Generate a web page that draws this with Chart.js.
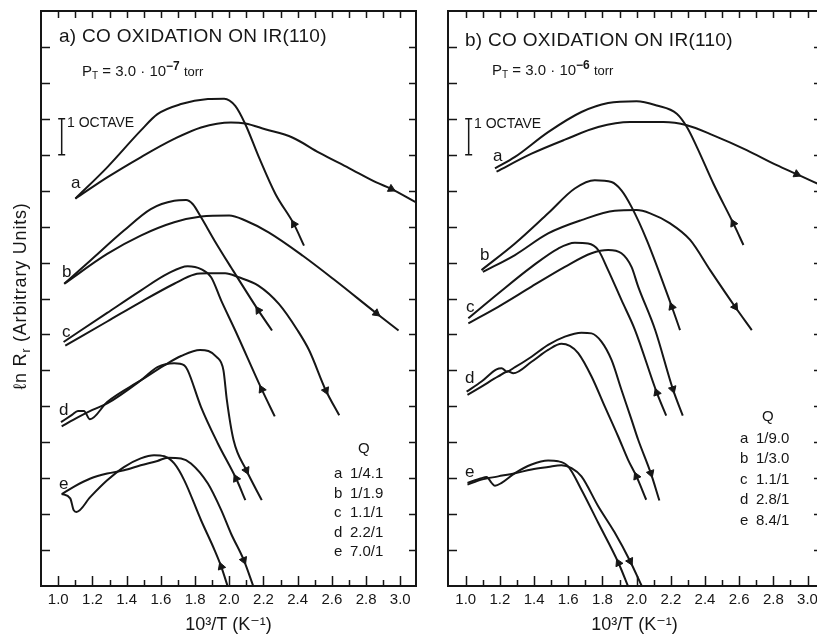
<!DOCTYPE html>
<html>
<head>
<meta charset="utf-8">
<script src="https://cdn.jsdelivr.net/npm/chart.js@4.4.1/dist/chart.umd.min.js"></script>
<style>
  html, body { margin: 0; padding: 0; background: #fff; overflow: hidden; }
  #wrap { position: relative; width: 817px; height: 637px; overflow: hidden; }
  canvas { position: absolute; top: 0; }
  #left { left: 0; width: 432px; height: 637px; }
  #right { left: 432px; width: 395px; height: 637px; }
  .t { position: absolute; font-family: 'Liberation Sans', 'DejaVu Sans', sans-serif; color: #161616; line-height: 1; white-space: nowrap; }
  .title { font-size: 19px; letter-spacing: 0.3px; }
  .pt { font-size: 15px; }
  .pt .s { font-size: 10px; position: relative; top: 3px; }
  .pt .u { font-size: 12px; font-weight: bold; position: relative; top: -6px; }
  .pt .torr { font-size: 13px; }
  .oct { font-size: 14px; }
  .cl { font-size: 17px; }
  .lg { font-size: 15px; }
  .lg b { display: inline-block; width: 16px; font-weight: normal; }
  .ytitle { font-size: 18px; letter-spacing: 0.8px; transform: translate(-50%, -50%) rotate(-90deg); }
  .ytitle .s { font-size: 12px; position: relative; top: 4px; }
</style>
</head>
<body>
<div id="wrap">
  <canvas id="left" width="432" height="637"></canvas>
  <canvas id="right" width="395" height="637"></canvas>

  <div class="t ytitle" style="left:20px; top:296px;">ℓn R<span class="s">r</span> (Arbitrary Units)</div>

  <!-- panel a -->
  <div class="t title" style="left:59px; top:26px;">a) CO OXIDATION ON IR(110)</div>
  <div class="t pt" style="left:82px; top:63px;">P<span class="s">T</span> = 3.0 · 10<span class="u">−7</span> <span class="torr">torr</span></div>
  <div class="t oct" style="left:67px; top:115px;">1 OCTAVE</div>
  <div class="t cl" style="left:71px; top:174px;">a</div>
  <div class="t cl" style="left:62px; top:263px;">b</div>
  <div class="t cl" style="left:62px; top:323px;">c</div>
  <div class="t cl" style="left:59px; top:401px;">d</div>
  <div class="t cl" style="left:59px; top:475px;">e</div>
  <div class="t lg" style="left:358px; top:440px;">Q</div>
  <div class="t lg" style="left:334px; top:465px;"><b>a</b>1/4.1</div>
  <div class="t lg" style="left:334px; top:485px;"><b>b</b>1/1.9</div>
  <div class="t lg" style="left:334px; top:504px;"><b>c</b>1.1/1</div>
  <div class="t lg" style="left:334px; top:524px;"><b>d</b>2.2/1</div>
  <div class="t lg" style="left:334px; top:543px;"><b>e</b>7.0/1</div>

  <!-- panel b -->
  <div class="t title" style="left:465px; top:30px;">b) CO OXIDATION ON IR(110)</div>
  <div class="t pt" style="left:492px; top:62px;">P<span class="s">T</span> = 3.0 · 10<span class="u">−6</span> <span class="torr">torr</span></div>
  <div class="t oct" style="left:474px; top:116px;">1 OCTAVE</div>
  <div class="t cl" style="left:493px; top:147px;">a</div>
  <div class="t cl" style="left:480px; top:246px;">b</div>
  <div class="t cl" style="left:466px; top:298px;">c</div>
  <div class="t cl" style="left:465px; top:369px;">d</div>
  <div class="t cl" style="left:465px; top:463px;">e</div>
  <div class="t lg" style="left:762px; top:408px;">Q</div>
  <div class="t lg" style="left:740px; top:430px;"><b>a</b>1/9.0</div>
  <div class="t lg" style="left:740px; top:450px;"><b>b</b>1/3.0</div>
  <div class="t lg" style="left:740px; top:471px;"><b>c</b>1.1/1</div>
  <div class="t lg" style="left:740px; top:491px;"><b>d</b>2.8/1</div>
  <div class="t lg" style="left:740px; top:512px;"><b>e</b>8.4/1</div>
</div>

<script>
// --- data: [10^3/T, ln R] ---
const xTickValues = [1.0, 1.2, 1.4, 1.6, 1.8, 2.0, 2.2, 2.4, 2.6, 2.8, 3.0];
const xTickLabels = ['1.0', '1.2', '1.4', '1.6', '1.8', '2.0', '2.2', '2.4', '2.6', '2.8', '3.0'];

// panel a, P = 3.0e-7 torr
const leftA1 = [[1.10,10.78],[1.286,11.65],[1.482,12.67],[1.58,13.13],[1.718,13.41],[1.875,13.55],[1.97,13.56],[2.035,13.36],[2.094,12.85],[2.17,11.97],[2.27,10.91],[2.378,10.07],[2.437,9.47]];
const leftA2 = [[1.10,10.78],[1.286,11.37],[1.482,11.93],[1.678,12.44],[1.835,12.76],[2.01,12.90],[2.094,12.87],[2.21,12.71],[2.369,12.48],[2.525,12.06],[2.70,11.63],[2.86,11.23],[2.947,11.05],[3.09,10.68]];
const leftB1 = [[1.035,8.41],[1.188,9.06],[1.384,9.89],[1.541,10.49],[1.678,10.72],[1.747,10.74],[1.786,10.63],[1.835,10.26],[1.914,9.61],[2.01,8.87],[2.17,7.67],[2.25,7.11]];
const leftB2 = [[1.035,8.41],[1.286,9.24],[1.482,9.75],[1.678,10.12],[1.835,10.28],[2.0,10.31],[2.094,10.17],[2.23,9.84],[2.43,9.19],[2.62,8.5],[2.86,7.59],[2.99,7.11]];
const leftC1 = [[1.031,6.79],[1.286,7.6],[1.482,8.22],[1.64,8.69],[1.757,8.9],[1.835,8.82],[1.894,8.59],[1.953,7.94],[2.035,7.11],[2.19,5.47],[2.266,4.72]];
const leftC2 = [[1.041,6.69],[1.286,7.36],[1.482,7.9],[1.678,8.41],[1.796,8.67],[1.875,8.70],[1.976,8.70],[2.055,8.59],[2.17,8.36],[2.29,7.85],[2.40,7.11],[2.467,6.56],[2.565,5.44],[2.643,4.75]];
const leftD1 = [[1.016,4.56],[1.08,4.76],[1.115,4.87],[1.15,4.87],[1.185,4.64],[1.286,5.12],[1.482,5.72],[1.62,6.14],[1.718,6.4],[1.829,6.57],[1.927,6.37],[1.966,6.0],[1.986,5.17],[2.025,4.06],[2.10,3.22],[2.19,2.39]];
const leftD2 = [[1.02,4.44],[1.09,4.63],[1.2,4.9],[1.286,5.08],[1.482,5.72],[1.58,6.09],[1.678,6.2],[1.737,6.14],[1.757,6.0],[1.835,4.98],[1.934,3.96],[2.04,2.99],[2.094,2.39]];
const leftE1 = [[1.02,2.56],[1.07,2.44],[1.09,2.11],[1.106,2.06],[1.188,2.48],[1.286,2.94],[1.384,3.31],[1.482,3.55],[1.56,3.64],[1.62,3.61],[1.678,3.41],[1.737,2.94],[1.835,1.83],[1.914,1.0],[1.953,0.54],[1.99,0.0]];
const leftE2 = [[1.02,2.56],[1.09,2.76],[1.188,2.99],[1.286,3.13],[1.384,3.22],[1.482,3.36],[1.58,3.48],[1.64,3.57],[1.718,3.55],[1.776,3.41],[1.875,2.85],[1.953,2.11],[2.01,1.46],[2.085,0.72],[2.14,0.0]];

// panel b, P = 3.0e-6 torr
const rightA1 = [[1.171,11.62],[1.288,11.94],[1.482,12.63],[1.677,13.19],[1.833,13.44],[2.0,13.49],[2.118,13.37],[2.235,13.14],[2.294,12.77],[2.352,12.22],[2.449,11.2],[2.566,10.09],[2.625,9.49]];
const rightA2 = [[1.18,11.53],[1.385,12.03],[1.58,12.42],[1.775,12.77],[1.962,12.91],[2.157,12.91],[2.294,12.82],[2.449,12.54],[2.644,12.13],[2.82,11.71],[2.937,11.46],[3.08,11.15]];
const rightB1 = [[1.092,8.79],[1.288,9.53],[1.482,10.37],[1.638,11.06],[1.755,11.29],[1.853,11.24],[1.911,11.01],[1.97,10.55],[2.06,9.62],[2.206,7.77],[2.254,7.12]];
const rightB2 = [[1.10,8.74],[1.288,9.21],[1.482,9.81],[1.677,10.18],[1.872,10.44],[2.0,10.46],[2.079,10.37],[2.196,10.09],[2.313,9.63],[2.43,8.79],[2.576,7.77],[2.674,7.12]];
const rightC1 = [[1.015,7.45],[1.19,8.14],[1.385,8.88],[1.541,9.39],[1.638,9.55],[1.716,9.53],[1.775,9.35],[1.833,8.79],[1.911,7.96],[1.99,7.13],[2.118,5.38],[2.173,4.74]];
const rightC2 = [[1.015,7.31],[1.19,7.77],[1.385,8.33],[1.58,8.88],[1.736,9.26],[1.833,9.35],[1.911,9.26],[1.97,8.88],[2.009,8.33],[2.108,7.13],[2.212,5.48],[2.27,4.74]];
const rightD1 = [[1.005,5.41],[1.092,5.69],[1.18,6.03],[1.21,6.06],[1.239,5.97],[1.288,6.09],[1.385,6.38],[1.482,6.71],[1.58,6.94],[1.677,7.05],[1.736,7.03],[1.794,6.8],[1.853,6.29],[1.911,5.46],[1.97,4.63],[2.009,4.07],[2.083,3.14],[2.133,2.38]];
const rightD2 = [[1.01,5.32],[1.092,5.55],[1.19,5.83],[1.249,5.97],[1.278,5.92],[1.385,6.24],[1.482,6.57],[1.56,6.74],[1.609,6.68],[1.658,6.48],[1.736,5.83],[1.814,4.99],[1.892,4.16],[1.95,3.51],[1.999,3.05],[2.056,2.4]];
const rightE1 = [[1.01,2.87],[1.092,3.0],[1.122,3.03],[1.151,2.87],[1.171,2.79],[1.21,2.87],[1.288,3.14],[1.385,3.38],[1.482,3.49],[1.541,3.47],[1.599,3.33],[1.677,2.68],[1.775,1.76],[1.894,0.64],[1.949,0.0]];
const rightE2 = [[1.01,2.82],[1.092,2.96],[1.19,3.05],[1.288,3.14],[1.385,3.24],[1.482,3.31],[1.56,3.36],[1.619,3.28],[1.677,3.05],[1.775,2.22],[1.87,1.5],[1.962,0.69],[2.03,0.0]];

// arrows: [curve, vertex index, direction along the curve]
const leftArrows = [[leftA1, 11, 'up'], [leftA2, 12, 'down'], [leftB1, 10, 'up'], [leftB2, 10, 'down'],
  [leftC1, 9, 'up'], [leftC2, 12, 'down'], [leftD2, 11, 'up'], [leftD1, 14, 'down'],
  [leftE1, 14, 'up'], [leftE2, 13, 'down']];
const rightArrows = [[rightA1, 11, 'up'], [rightA2, 10, 'down'], [rightB1, 9, 'up'], [rightB2, 10, 'down'],
  [rightC1, 10, 'up'], [rightC2, 10, 'down'], [rightD2, 14, 'up'], [rightD1, 16, 'down'],
  [rightE1, 13, 'up'], [rightE2, 11, 'down']];

const INK = '#161616';
const FONT = "'Liberation Sans', 'DejaVu Sans', sans-serif";
Chart.defaults.font.family = FONT;
Chart.defaults.color = INK;

function curveSet(pts) {
  return {
    type: 'line',
    data: pts.map(p => ({ x: p[0], y: p[1] })),
    borderColor: INK,
    borderWidth: 2,
    pointRadius: 0,
    fill: false,
    cubicInterpolationMode: 'monotone'
  };
}

// triangle points up by default; turn it along the curve in pixel space
function arrowAngle(chart, pts, i, dir) {
  const xs = chart.scales.x, ys = chart.scales.y;
  const a = pts[i - 1], b = pts[i + 1] || pts[i];
  const dx = xs.getPixelForValue(b[0]) - xs.getPixelForValue(a[0]);
  const dy = ys.getPixelForValue(b[1]) - ys.getPixelForValue(a[1]);
  let ang = Math.atan2(dy, dx) * 180 / Math.PI + 90;
  if (dir === 'up') ang += 180;
  return ang;
}

function arrowSet(pts, i, dir) {
  return {
    type: 'scatter',
    data: [{ x: pts[i][0], y: pts[i][1] }],
    pointStyle: 'triangle',
    pointRadius: 4.5,
    backgroundColor: INK,
    borderColor: INK,
    borderWidth: 1,
    rotation: ctx => arrowAngle(ctx.chart, pts, i, dir)
  };
}

// frame, inward ticks and the "1 octave" bar
const frameTicks = {
  id: 'frameTicks',
  afterDatasetsDraw(chart, args, opts) {
    const { ctx, chartArea: ca, scales: { x, y } } = chart;
    ctx.save();
    ctx.strokeStyle = INK;
    ctx.lineWidth = 2;
    ctx.strokeRect(ca.left, ca.top, ca.right - ca.left, ca.bottom - ca.top);
    ctx.lineWidth = 1.5;
    ctx.beginPath();
    for (let k = 10; k <= 30; k++) {
      const px = Math.round(x.getPixelForValue(k / 10)) + 0.5;
      ctx.moveTo(px, ca.bottom);
      ctx.lineTo(px, ca.bottom - (k % 2 === 0 ? 10 : 6));
      ctx.moveTo(px, ca.top);
      ctx.lineTo(px, ca.top + 7);
    }
    for (let v = 1; v <= 15; v++) {
      const py = Math.round(y.getPixelForValue(v)) + 0.5;
      ctx.moveTo(ca.left, py);
      ctx.lineTo(ca.left + 9, py);
      ctx.moveTo(ca.right, py);
      ctx.lineTo(ca.right - 7, py);
    }
    // octave bar
    const bx = x.getPixelForValue(opts.octaveX);
    const y0 = y.getPixelForValue(12), y1 = y.getPixelForValue(13);
    ctx.moveTo(bx, y0); ctx.lineTo(bx, y1);
    ctx.moveTo(bx - 3.5, y0); ctx.lineTo(bx + 3.5, y0);
    ctx.moveTo(bx - 3.5, y1); ctx.lineTo(bx + 3.5, y1);
    ctx.stroke();
    ctx.restore();
  }
};

function makePanel(id, curves, arrows, cfg) {
  const datasets = curves.map(curveSet).concat(arrows.map(a => arrowSet(a[0], a[1], a[2])));
  return new Chart(document.getElementById(id), {
    type: 'line',
    data: { datasets },
    options: {
      responsive: false,
      animation: false,
      events: [],
      layout: { padding: { left: 0, right: cfg.padRight, top: 11, bottom: 0 } },
      plugins: {
        legend: { display: false },
        tooltip: { enabled: false },
        frameTicks: { octaveX: cfg.octaveX }
      },
      scales: {
        x: {
          type: 'linear',
          min: cfg.xMin,
          max: cfg.xMax,
          afterBuildTicks: s => { s.ticks = xTickValues.map(v => ({ value: v })); },
          afterFit: s => { s.height = 51; },
          grid: { display: false, drawTicks: false },
          border: { display: false },
          ticks: {
            autoSkip: false,
            maxRotation: 0,
            padding: 5,
            color: INK,
            font: { size: 15 },
            callback: (v, i) => xTickLabels[i]
          },
          title: {
            display: true,
            text: '10³/T (K⁻¹)',
            color: INK,
            font: { size: 18 },
            padding: { top: 0, bottom: 1 }
          }
        },
        y: {
          type: 'linear',
          min: 0,
          max: 16,
          afterFit: s => { s.width = cfg.yWidth; },
          grid: { display: false, drawTicks: false },
          border: { display: false },
          ticks: { display: false }
        }
      }
    },
    plugins: [frameTicks]
  });
}

makePanel('left',
  [leftA1, leftA2, leftB1, leftB2, leftC1, leftC2, leftD1, leftD2, leftE1, leftE2],
  leftArrows,
  { xMin: 0.899, xMax: 3.092, padRight: 16, yWidth: 41, octaveX: 1.02 });

makePanel('right',
  [rightA1, rightA2, rightB1, rightB2, rightC1, rightC2, rightD1, rightD2, rightE1, rightE2],
  rightArrows,
  { xMin: 0.896, xMax: 3.079, padRight: 6, yWidth: 16, octaveX: 1.017 });
</script>
</body>
</html>
